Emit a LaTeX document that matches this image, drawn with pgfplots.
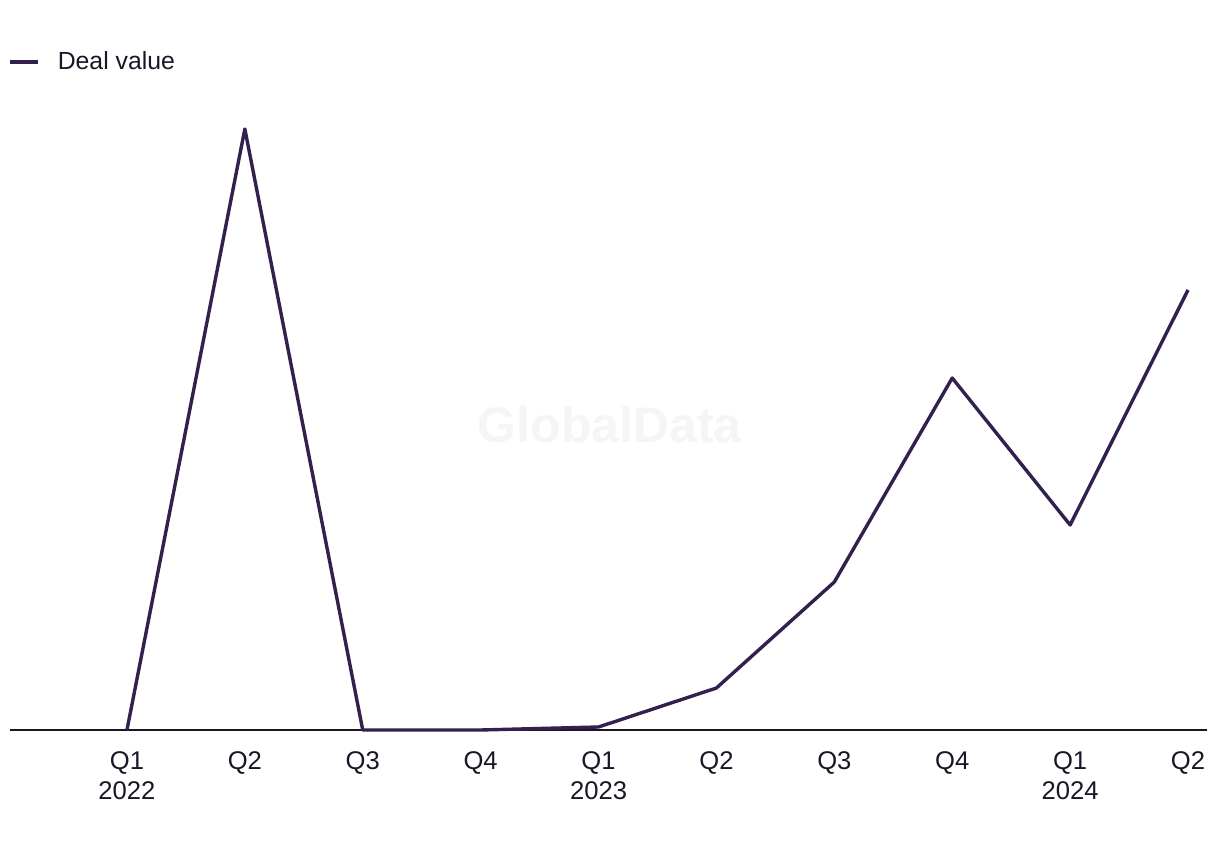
\documentclass[border=0pt]{standalone}
\usepackage{pgfplots}
\pgfplotsset{compat=1.18}
\usepackage{fontspec}
\setmainfont{Liberation Sans}
\definecolor{dealc}{HTML}{33204F}
\definecolor{axc}{HTML}{1A1626}
\begin{document}
\begin{tikzpicture}
\useasboundingbox (0,0) rectangle (610pt,425pt);
\begin{axis}[
  at={(5pt,60pt)}, anchor=south west,
  scale only axis, width=598.5pt, height=315pt,
  xmin=-0.992, xmax=9.161, ymin=0, ymax=630,
  axis x line=bottom, axis y line=none,
  x axis line style={-, color=axc, line width=0.6pt},
  major tick length=0pt,
  xtick={0,...,9},
  xticklabels={{Q1\\2022},Q2,Q3,Q4,{Q1\\2023},Q2,Q3,Q4,{Q1\\2024},Q2},
  xticklabel style={align=center, font=\fontsize{12.8}{15}\selectfont, text=axc, yshift=-7.5pt},
  clip=false,
  legend style={at={(rel axis cs:0,1)}, anchor=west, yshift=19pt, xshift=-1pt, draw=none, fill=none, inner sep=0pt, font=\fontsize{12.4}{14}\selectfont, text=axc},
  legend image code/.code={\draw[dealc, line width=1.7pt] (0pt,0pt) -- (14pt,0pt); \path (21pt,0pt);},
]
\node[text=black!4, font=\fontsize{25}{27}\selectfont\bfseries] at (rel axis cs:0.501,0.484) {GlobalData};
\addplot[dealc, line width=1.7pt, line join=round] coordinates {
(0,0) (1,601) (2,0) (3,0) (4,3) (5,42) (6,148) (7,352) (8,205) (9,440)};
\addlegendentry{Deal value}
\end{axis}
\end{tikzpicture}
\end{document}
